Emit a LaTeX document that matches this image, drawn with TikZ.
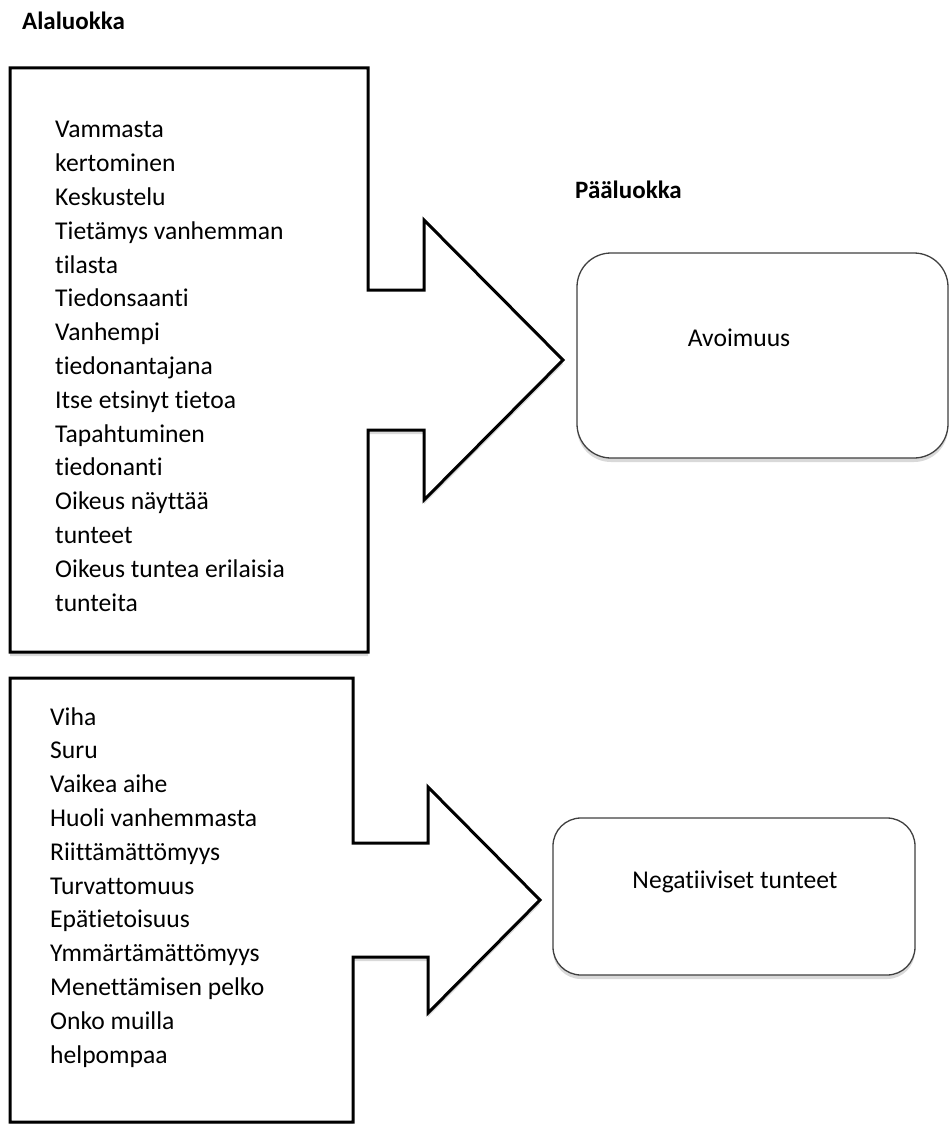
\documentclass[tikz,border=0pt]{standalone}
\usepackage{fontspec}
\setmainfont{Carlito}[Ligatures=NoCommon]
\usetikzlibrary{shadows}

\begin{document}
\begin{tikzpicture}[x=1pt,y=-1pt,
    softshadow/.style={drop shadow={shadow xshift=0pt,shadow yshift=-4pt,opacity=.25,fill=black!60}},
    arrowshape/.style={draw=black,line width=3pt,fill=white,miter limit=10,softshadow},
    mainbox/.style={draw=black!75,line width=1.3pt,fill=white,softshadow},
    header/.style={font=\fontsize{25}{30}\selectfont\bfseries,anchor=west,inner sep=0pt},
    itemlist/.style={font=\fontsize{25.6}{33.8}\selectfont,align=left,anchor=base west,inner sep=0pt},
    boxtext/.style={font=\fontsize{25.6}{30}\selectfont,inner sep=0pt}]

\useasboundingbox (0,0) rectangle (949,1124);

\node[header] (ala) at (22,21) {Alaluokka};
\node[header] (paa) at (575,190) {Pääluokka};

% upper arrow
\draw[arrowshape] (10,68) -- (368,68) -- (368,290) -- (424,290) -- (424,220)
    -- (563,360) -- (424,500) -- (424,430) -- (368,430) -- (368,652) -- (10,652) -- cycle;
\node[itemlist] (avoilist) at (55,611) {Vammasta\\kertominen\\Keskustelu\\Tietämys vanhemman\\tilasta\\Tiedonsaanti\\Vanhempi\\tiedonantajana\\Itse etsinyt tietoa\\Tapahtuminen\\tiedonanti\\Oikeus näyttää\\tunteet\\Oikeus tuntea erilaisia\\tunteita};

% lower arrow
\draw[arrowshape] (10,678) -- (353,678) -- (353,843) -- (428,843) -- (428,787)
    -- (540,900) -- (428,1013) -- (428,957) -- (353,957) -- (353,1122) -- (10,1122) -- cycle;
\node[itemlist] (negalist) at (50,1063) {Viha\\Suru\\Vaikea aihe\\Huoli vanhemmasta\\Riittämättömyys\\Turvattomuus\\Epätietoisuus\\Ymmärtämättömyys\\Menettämisen pelko\\Onko muilla\\helpompaa};

\node[mainbox,rounded corners=34pt,minimum width=371pt,minimum height=205pt] (avoi) at (762.5,355.5) {};
\node[boxtext] (avoitext) at (739,338) {Avoimuus};

\node[mainbox,rounded corners=28pt,minimum width=362pt,minimum height=157pt] (nega) at (734,896.5) {};
\node[boxtext] (negatext) at (735,882) {Negatiiviset tunteet};

\end{tikzpicture}
\end{document}
